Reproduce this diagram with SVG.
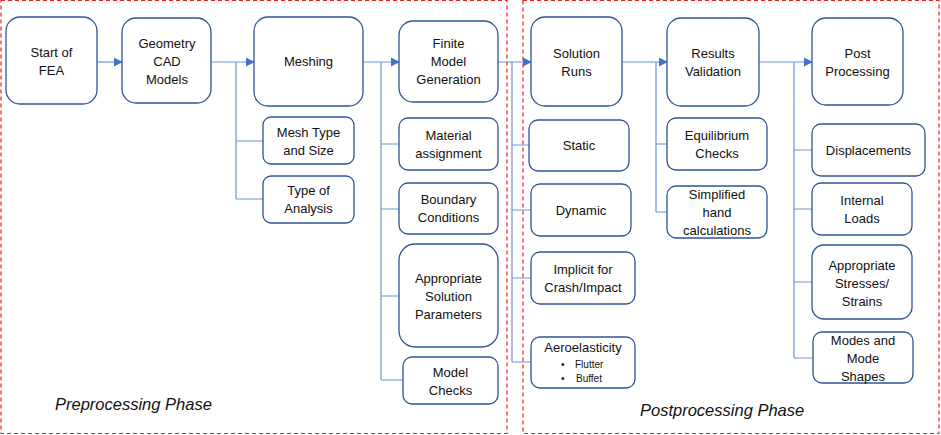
<svg xmlns="http://www.w3.org/2000/svg" width="941" height="435" viewBox="0 0 941 435">
<style>
.n rect{fill:#fff;stroke:#2F5597;stroke-width:1.3}
.n text{font-family:"Liberation Sans",Arial,sans-serif;font-size:13px;fill:#111;text-anchor:middle}
.n text.s{font-size:10px;text-anchor:start}
.c path{fill:none;stroke:#6F93D6;stroke-width:1.2}
.c path.a{marker-end:url(#ah)}
.ph{fill:none;stroke:#E8201A;stroke-width:1.2;stroke-dasharray:4 3}
.lbl{font-family:"Liberation Sans",Arial,sans-serif;font-size:16.5px;font-style:italic;fill:#111}
</style>
<defs>
<marker id="ah" viewBox="0 0 10 10" refX="9" refY="5" markerWidth="9" markerHeight="9" markerUnits="userSpaceOnUse" orient="auto">
<path d="M0,0 L10,5 L0,10 z" fill="#4472C4"/>
</marker>
</defs>
<rect width="941" height="435" fill="#fff"/>
<g id="phases">
<rect class="ph" x="1" y="0.5" width="506" height="433"/>
<rect class="ph" x="523" y="0.5" width="416" height="433"/>
<text class="lbl" x="55" y="410">Preprocessing Phase</text>
<text class="lbl" x="640" y="416">Postprocessing Phase</text>
</g>
<g id="connectors" class="c">
<path class="a" d="M97,62 H122"/>
<path class="a" d="M211,62 H254"/>
<path d="M236,62 V199 M236,141 H263 M236,199 H263"/>
<path class="a" d="M363,62 H399"/>
<path d="M381,62 V380 M381,144 H399 M381,209 H399 M381,296 H399 M381,380 H403"/>
<path class="a" d="M498,62 H531"/>
<path d="M512,62 V362 M512,145 H529 M512,210 H531 M512,278 H531 M512,362 H531"/>
<path class="a" d="M622,62 H667"/>
<path d="M656,62 V212 M656,144 H667 M656,212 H667"/>
<path class="a" d="M759,62 H812"/>
<path d="M794,62 V358 M794,150 H812 M794,209 H812 M794,282 H812 M794,358 H813"/>
</g>
<g id="start" class="n"><rect x="6" y="17" width="91" height="87" rx="14"/><text x="51.5" y="57">Start of</text><text x="51.5" y="75">FEA</text></g>
<g id="geometry" class="n"><rect x="122" y="18" width="89" height="85" rx="14"/><text x="167" y="48">Geometry</text><text x="167" y="66">CAD</text><text x="167" y="84">Models</text></g>
<g id="meshing" class="n"><rect x="254" y="17" width="109" height="89" rx="14"/><text x="308.5" y="66">Meshing</text></g>
<g id="meshtype" class="n"><rect x="263" y="117" width="91" height="47" rx="8"/><text x="308.5" y="137">Mesh Type</text><text x="308.5" y="155">and Size</text></g>
<g id="typeanalysis" class="n"><rect x="263" y="176" width="91" height="47" rx="8"/><text x="308.5" y="195">Type of</text><text x="308.5" y="213">Analysis</text></g>
<g id="finite" class="n"><rect x="399" y="21" width="99" height="81" rx="14"/><text x="448.5" y="48">Finite</text><text x="448.5" y="66">Model</text><text x="448.5" y="84">Generation</text></g>
<g id="material" class="n"><rect x="399" y="118" width="99" height="52" rx="9"/><text x="448.5" y="140">Material</text><text x="448.5" y="158">assignment</text></g>
<g id="boundary" class="n"><rect x="399" y="183" width="99" height="51" rx="9"/><text x="448.5" y="204">Boundary</text><text x="448.5" y="222">Conditions</text></g>
<g id="solparams" class="n"><rect x="399" y="244" width="99" height="103" rx="16"/><text x="448.5" y="283">Appropriate</text><text x="448.5" y="301">Solution</text><text x="448.5" y="319">Parameters</text></g>
<g id="modelchecks" class="n"><rect x="403" y="357" width="95" height="47" rx="9"/><text x="450.5" y="377">Model</text><text x="450.5" y="395">Checks</text></g>
<g id="solruns" class="n"><rect x="531" y="17" width="91" height="89" rx="14"/><text x="576.5" y="58">Solution</text><text x="576.5" y="76">Runs</text></g>
<g id="static" class="n"><rect x="529" y="120" width="100" height="51" rx="9"/><text x="579" y="150">Static</text></g>
<g id="dynamic" class="n"><rect x="531" y="184" width="100" height="52" rx="9"/><text x="581" y="215">Dynamic</text></g>
<g id="implicit" class="n"><rect x="531" y="252" width="104" height="52" rx="9"/><text x="583" y="274">Implicit for</text><text x="583" y="292">Crash/Impact</text></g>
<g id="aero" class="n"><rect x="531" y="337" width="104" height="51" rx="9"/><text x="583" y="352">Aeroelasticity</text><text class="s" x="561" y="368">•</text><text class="s" x="575" y="368">Flutter</text><text class="s" x="561" y="382">•</text><text class="s" x="576" y="382">Buffet</text></g>
<g id="results" class="n"><rect x="667" y="18" width="92" height="88" rx="14"/><text x="713" y="58">Results</text><text x="713" y="76">Validation</text></g>
<g id="equilibrium" class="n"><rect x="667" y="118" width="100" height="52" rx="9"/><text x="717" y="140">Equilibrium</text><text x="717" y="158">Checks</text></g>
<g id="simplified" class="n"><rect x="667" y="186" width="100" height="52" rx="9"/><text x="717" y="199">Simplified</text><text x="717" y="217">hand</text><text x="717" y="235">calculations</text></g>
<g id="post" class="n"><rect x="812" y="18" width="91" height="87" rx="14"/><text x="857.5" y="58">Post</text><text x="857.5" y="76">Processing</text></g>
<g id="displacements" class="n"><rect x="812" y="124" width="113" height="52" rx="9"/><text x="868.5" y="155">Displacements</text></g>
<g id="internal" class="n"><rect x="812" y="183" width="100" height="52" rx="9"/><text x="862" y="205">Internal</text><text x="862" y="223">Loads</text></g>
<g id="stresses" class="n"><rect x="812" y="245" width="100" height="74" rx="12"/><text x="862" y="270">Appropriate</text><text x="862" y="288">Stresses/</text><text x="862" y="306">Strains</text></g>
<g id="modes" class="n"><rect x="813" y="332" width="100" height="51" rx="9"/><text x="863" y="345">Modes and</text><text x="863" y="363">Mode</text><text x="863" y="381">Shapes</text></g>
</svg>
